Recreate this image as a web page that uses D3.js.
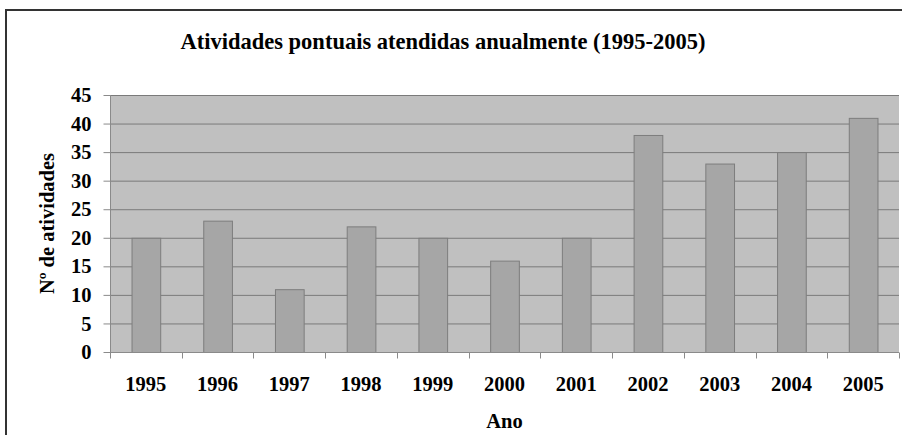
<!DOCTYPE html>
<html>
<head>
<meta charset="utf-8">
<script src="https://cdn.jsdelivr.net/npm/d3@7"></script>
<style>
  body { margin: 0; background: #fff; }
  svg text { font-family: "Liberation Serif", "Times New Roman", "DejaVu Serif", serif; font-weight: bold; fill: #000; }
</style>
</head>
<body>
<div id="chart"></div>
<script>
// data
var anos = ["1995", "1996", "1997", "1998", "1999", "2000", "2001", "2002", "2003", "2004", "2005"];
var atividades = [20, 23, 11, 22, 20, 16, 20, 38, 33, 35, 41];
var yTicks = [0, 5, 10, 15, 20, 25, 30, 35, 40, 45];

var width = 902, height = 435;
var plot = { left: 110, right: 899, top: 95, bottom: 352 };

var svg = d3.select("#chart").append("svg")
    .attr("width", width)
    .attr("height", height);

// outer frame (only top and left visible)
svg.append("path")
    .attr("d", "M6," + height + " V10 H" + width)
    .attr("fill", "none")
    .attr("stroke", "#333")
    .attr("stroke-width", 2);

var x = d3.scaleBand()
    .domain(anos)
    .range([plot.left, plot.right])
    .paddingInner(0.6)
    .paddingOuter(0.3);

var y = d3.scaleLinear()
    .domain([0, 45])
    .range([plot.bottom, plot.top]);

// plot background
svg.append("rect")
    .attr("x", plot.left)
    .attr("y", plot.top)
    .attr("width", plot.right - plot.left)
    .attr("height", plot.bottom - plot.top)
    .attr("fill", "#c0c0c0");

// gridlines
svg.append("g").selectAll("line")
    .data(yTicks.filter(function (d) { return d > 0; }))
    .enter().append("line")
    .attr("x1", plot.left)
    .attr("x2", plot.right)
    .attr("y1", function (d) { return y(d) + 0.5; })
    .attr("y2", function (d) { return y(d) + 0.5; })
    .attr("stroke", "#7a7a7a")
    .attr("stroke-width", 1);

// bars
svg.append("g").selectAll("rect")
    .data(atividades)
    .enter().append("rect")
    .attr("x", function (d, i) { return x(anos[i]) + 0.5; })
    .attr("y", function (d) { return y(d) + 0.5; })
    .attr("width", x.bandwidth())
    .attr("height", function (d) { return y(0) - y(d); })
    .attr("fill", "#a6a6a6")
    .attr("stroke", "#7d7d7d")
    .attr("stroke-width", 1);

// y axis
var yAxis = svg.append("g")
    .attr("transform", "translate(" + (plot.left + 0.5) + ",0)")
    .call(d3.axisLeft(y).tickValues(yTicks).tickSize(7).tickPadding(12));
yAxis.select(".domain").attr("stroke", "#8a8a8a").attr("d", "M0," + plot.top + "V" + plot.bottom);
yAxis.selectAll(".tick line").attr("stroke", "#8a8a8a");
yAxis.selectAll(".tick text")
    .attr("font-size", 20.5)
    .attr("fill", "#000");

// x axis: ticks on category boundaries
var xAxisG = svg.append("g")
    .attr("transform", "translate(0," + (plot.bottom + 0.5) + ")");
xAxisG.append("line")
    .attr("x1", plot.left)
    .attr("x2", plot.right)
    .attr("stroke", "#8a8a8a");
var step = x.step();
var bounds = d3.range(anos.length + 1).map(function (i) { return x(anos[0]) - x.paddingOuter() * step + i * step; });
xAxisG.selectAll("line.tk")
    .data(bounds)
    .enter().append("line")
    .attr("class", "tk")
    .attr("x1", function (d) { return Math.round(d) + 0.5; })
    .attr("x2", function (d) { return Math.round(d) + 0.5; })
    .attr("y1", 0)
    .attr("y2", 6)
    .attr("stroke", "#8a8a8a");
xAxisG.selectAll("text")
    .data(anos)
    .enter().append("text")
    .attr("x", function (d) { return x(d) + x.bandwidth() / 2; })
    .attr("y", 38)
    .attr("text-anchor", "middle")
    .attr("font-size", 20.5)
    .text(function (d) { return d; });

// title
svg.append("text")
    .attr("x", 443)
    .attr("y", 49)
    .attr("text-anchor", "middle")
    .attr("font-size", 22.5)
    .text("Atividades pontuais atendidas anualmente (1995-2005)");

// axis titles
svg.append("text")
    .attr("x", (plot.left + plot.right) / 2)
    .attr("y", 428)
    .attr("text-anchor", "middle")
    .attr("font-size", 20.5)
    .text("Ano");

svg.append("text")
    .attr("transform", "translate(54," + ((plot.top + plot.bottom) / 2) + ") rotate(-90)")
    .attr("text-anchor", "middle")
    .attr("font-size", 20.5)
    .text("Nº de atividades");
</script>
</body>
</html>
